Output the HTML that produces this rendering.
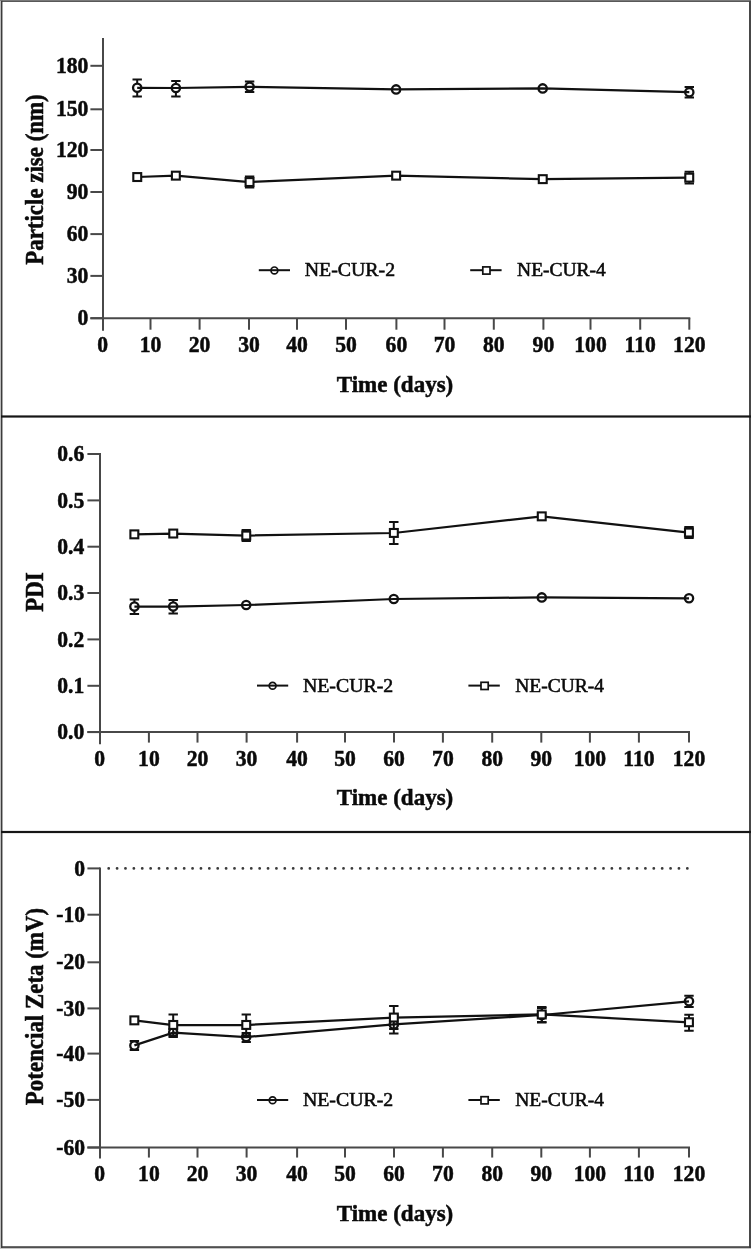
<!DOCTYPE html>
<html lang="en"><head><meta charset="utf-8"><title>Stability of NE-CUR nanoemulsions</title>
<style>
html,body{margin:0;padding:0;background:#fff}
#fig{position:relative;width:751px;height:1249px;overflow:hidden;background:#fff}
svg{display:block;filter:blur(.35px)}
text{font-family:"Liberation Serif",serif;fill:#0a0a0a}
.tk{font-size:22.4px;font-weight:bold;stroke:#0a0a0a;stroke-width:.5px}
.tt{font-size:23px;font-weight:bold;stroke:#0a0a0a;stroke-width:.5px}
.lg{font-size:19px;stroke:#0a0a0a;stroke-width:.55px}
</style></head><body>
<div id="fig"><svg width="751" height="1249" viewBox="0 0 751 1249">
<rect x="0" y="0" width="751" height="1249" fill="#fff"/>
<g stroke="#484848" stroke-width="2" fill="none">
<path d="M103 38V330.7"/>
<path d="M90.4 318.2H690.3"/>
<path d="M150.5 318.2V329.7"/>
<path d="M199.6 318.2V329.7"/>
<path d="M249.0 318.2V329.7"/>
<path d="M297.0 318.2V329.7"/>
<path d="M346.0 318.2V329.7"/>
<path d="M396.4 318.2V329.7"/>
<path d="M444.5 318.2V329.7"/>
<path d="M493.8 318.2V329.7"/>
<path d="M543.4 318.2V329.7"/>
<path d="M590.5 318.2V329.7"/>
<path d="M640.2 318.2V329.7"/>
<path d="M689.3 318.2V329.7"/>
<path d="M90.4 318.2H103"/>
<path d="M90.4 275.9H103"/>
<path d="M90.4 234.1H103"/>
<path d="M90.4 192.0H103"/>
<path d="M90.4 150.0H103"/>
<path d="M90.4 109.3H103"/>
<path d="M90.4 65.8H103"/>
</g>
<g class="tk" text-anchor="end">
<text transform="translate(88.3 325.3) scale(0.965 1)">0</text>
<text transform="translate(88.3 283.0) scale(0.965 1)">30</text>
<text transform="translate(88.3 241.2) scale(0.965 1)">60</text>
<text transform="translate(88.3 199.1) scale(0.965 1)">90</text>
<text transform="translate(88.3 157.1) scale(0.965 1)">120</text>
<text transform="translate(88.3 116.4) scale(0.965 1)">150</text>
<text transform="translate(88.3 72.9) scale(0.965 1)">180</text>
</g>
<g class="tk" text-anchor="middle">
<text transform="translate(102.6 352) scale(0.965 1)">0</text>
<text transform="translate(150.5 352) scale(0.965 1)">10</text>
<text transform="translate(199.6 352) scale(0.965 1)">20</text>
<text transform="translate(249.0 352) scale(0.965 1)">30</text>
<text transform="translate(297.0 352) scale(0.965 1)">40</text>
<text transform="translate(346.0 352) scale(0.965 1)">50</text>
<text transform="translate(396.4 352) scale(0.965 1)">60</text>
<text transform="translate(444.5 352) scale(0.965 1)">70</text>
<text transform="translate(493.8 352) scale(0.965 1)">80</text>
<text transform="translate(543.4 352) scale(0.965 1)">90</text>
<text transform="translate(590.5 352) scale(0.965 1)">100</text>
<text transform="translate(640.2 352) scale(0.965 1)">110</text>
<text transform="translate(689.3 352) scale(0.965 1)">120</text>
</g>
<text class="tt" text-anchor="middle" x="395" y="391.5">Time (days)</text>
<text class="tt" text-anchor="middle" transform="translate(43 179.5) rotate(-90) scale(.997 1.05)">Particle zise (nm)</text>
<path d="M137.2 79.6V96.6M132.5 79.6H141.9M132.5 96.6H141.9" stroke="#111" stroke-width="2.0" fill="none"/>
<path d="M175.9 81.0V96.4M171.2 81.0H180.6M171.2 96.4H180.6" stroke="#111" stroke-width="2.0" fill="none"/>
<path d="M249.6 81.6V92.0M244.9 81.6H254.3M244.9 92.0H254.3" stroke="#111" stroke-width="2.0" fill="none"/>
<path d="M689.3 87.0V97.6M684.6 87.0H694.0M684.6 97.6H694.0" stroke="#111" stroke-width="2.0" fill="none"/>
<circle cx="137.2" cy="87.8" r="4.15" fill="#fff" stroke="#111" stroke-width="2.3"/>
<circle cx="175.9" cy="88.0" r="4.15" fill="#fff" stroke="#111" stroke-width="2.3"/>
<circle cx="249.6" cy="86.8" r="4.15" fill="#fff" stroke="#111" stroke-width="2.3"/>
<circle cx="396.1" cy="89.4" r="4.15" fill="#fff" stroke="#111" stroke-width="2.3"/>
<circle cx="542.7" cy="88.4" r="4.15" fill="#fff" stroke="#111" stroke-width="2.3"/>
<circle cx="689.3" cy="92.2" r="4.15" fill="#fff" stroke="#111" stroke-width="2.3"/>
<polyline points="137.2,87.8 175.9,88.0 249.6,86.8 396.1,89.4 542.7,88.4 689.3,92.2" fill="none" stroke="#111" stroke-width="2.25"/>
<polyline points="137.2,177.0 175.9,175.6 249.6,182.0 396.1,175.6 542.7,179.2 689.3,177.6" fill="none" stroke="#111" stroke-width="2.25"/>
<path d="M249.6 176.6V187.6M244.9 176.6H254.3M244.9 187.6H254.3" stroke="#111" stroke-width="2.0" fill="none"/>
<path d="M689.3 171.8V183.4M684.6 171.8H694.0M684.6 183.4H694.0" stroke="#111" stroke-width="2.0" fill="none"/>
<rect x="133.3" y="173.1" width="7.9" height="7.9" fill="#fff" stroke="#111" stroke-width="2.1"/>
<rect x="171.9" y="171.7" width="7.9" height="7.9" fill="#fff" stroke="#111" stroke-width="2.1"/>
<rect x="245.6" y="178.1" width="7.9" height="7.9" fill="#fff" stroke="#111" stroke-width="2.1"/>
<rect x="392.2" y="171.7" width="7.9" height="7.9" fill="#fff" stroke="#111" stroke-width="2.1"/>
<rect x="538.8" y="175.2" width="7.9" height="7.9" fill="#fff" stroke="#111" stroke-width="2.1"/>
<rect x="685.3" y="173.7" width="7.9" height="7.9" fill="#fff" stroke="#111" stroke-width="2.1"/>
<path d="M470.2 270.2H501.6" stroke="#111" stroke-width="2"/>
<circle cx="274.4" cy="270.4" r="3.4" fill="#fff" stroke="#111" stroke-width="1.7"/>
<rect x="482.8" y="266.9" width="7.2" height="7.2" fill="#fff" stroke="#111" stroke-width="1.7"/>
<path d="M258.8 270.2H290.0" stroke="#111" stroke-width="2"/>
<text class="lg" transform="translate(304.7 276.3) scale(1.045 1)">NE-CUR-2</text>
<text class="lg" transform="translate(517.1 276.3) scale(1.025 1)">NE-CUR-4</text>
<g stroke="#484848" stroke-width="2" fill="none">
<path d="M100 453V744.3000000000001"/>
<path d="M87.4 732.1H690"/>
<path d="M148.9 732.1V742.6"/>
<path d="M197.5 732.1V742.6"/>
<path d="M246.6 732.1V742.6"/>
<path d="M297.1 732.1V742.6"/>
<path d="M345.0 732.1V742.6"/>
<path d="M394.0 732.1V742.6"/>
<path d="M442.9 732.1V742.6"/>
<path d="M492.2 732.1V742.6"/>
<path d="M541.3 732.1V742.6"/>
<path d="M589.9 732.1V742.6"/>
<path d="M638.9 732.1V742.6"/>
<path d="M689.0 732.1V742.6"/>
<path d="M87.4 732.1H100"/>
<path d="M87.4 685.8H100"/>
<path d="M87.4 639.4H100"/>
<path d="M87.4 593.0H100"/>
<path d="M87.4 546.7H100"/>
<path d="M87.4 500.4H100"/>
<path d="M87.4 454.0H100"/>
</g>
<g class="tk" text-anchor="end">
<text transform="translate(84.2 739.2) scale(0.965 1)">0.0</text>
<text transform="translate(84.2 692.9) scale(0.965 1)">0.1</text>
<text transform="translate(84.2 646.5) scale(0.965 1)">0.2</text>
<text transform="translate(84.2 600.1) scale(0.965 1)">0.3</text>
<text transform="translate(84.2 553.8) scale(0.965 1)">0.4</text>
<text transform="translate(84.2 507.5) scale(0.965 1)">0.5</text>
<text transform="translate(84.2 461.1) scale(0.965 1)">0.6</text>
</g>
<g class="tk" text-anchor="middle">
<text transform="translate(99.7 765.8) scale(0.965 1)">0</text>
<text transform="translate(148.9 765.8) scale(0.965 1)">10</text>
<text transform="translate(197.5 765.8) scale(0.965 1)">20</text>
<text transform="translate(246.6 765.8) scale(0.965 1)">30</text>
<text transform="translate(297.1 765.8) scale(0.965 1)">40</text>
<text transform="translate(345.0 765.8) scale(0.965 1)">50</text>
<text transform="translate(394.0 765.8) scale(0.965 1)">60</text>
<text transform="translate(442.9 765.8) scale(0.965 1)">70</text>
<text transform="translate(492.2 765.8) scale(0.965 1)">80</text>
<text transform="translate(541.3 765.8) scale(0.965 1)">90</text>
<text transform="translate(589.9 765.8) scale(0.965 1)">100</text>
<text transform="translate(638.9 765.8) scale(0.965 1)">110</text>
<text transform="translate(689.0 765.8) scale(0.965 1)">120</text>
</g>
<text class="tt" text-anchor="middle" x="395" y="805">Time (days)</text>
<text class="tt" text-anchor="middle" transform="translate(43 592) rotate(-90) scale(.997 1.05)">PDI</text>
<polyline points="134.4,534.4 173.2,533.6 246.2,535.6 393.8,533.0 541.8,516.4 689.0,532.6" fill="none" stroke="#111" stroke-width="2.25"/>
<path d="M246.2 530.0V541.0M241.6 530.0H250.9M241.6 541.0H250.9" stroke="#111" stroke-width="2.0" fill="none"/>
<path d="M393.8 522.0V544.0M389.1 522.0H398.5M389.1 544.0H398.5" stroke="#111" stroke-width="2.0" fill="none"/>
<path d="M689.0 527.0V538.0M684.3 527.0H693.7M684.3 538.0H693.7" stroke="#111" stroke-width="2.0" fill="none"/>
<rect x="130.4" y="530.4" width="7.9" height="7.9" fill="#fff" stroke="#111" stroke-width="2.1"/>
<rect x="169.3" y="529.6" width="7.9" height="7.9" fill="#fff" stroke="#111" stroke-width="2.1"/>
<rect x="242.3" y="531.6" width="7.9" height="7.9" fill="#fff" stroke="#111" stroke-width="2.1"/>
<rect x="389.9" y="529.0" width="7.9" height="7.9" fill="#fff" stroke="#111" stroke-width="2.1"/>
<rect x="537.8" y="512.4" width="7.9" height="7.9" fill="#fff" stroke="#111" stroke-width="2.1"/>
<rect x="685.0" y="528.6" width="7.9" height="7.9" fill="#fff" stroke="#111" stroke-width="2.1"/>
<path d="M134.4 599.4V614.0M129.7 599.4H139.1M129.7 614.0H139.1" stroke="#111" stroke-width="2.0" fill="none"/>
<path d="M173.2 600.0V613.4M168.5 600.0H177.9M168.5 613.4H177.9" stroke="#111" stroke-width="2.0" fill="none"/>
<circle cx="134.4" cy="606.6" r="4.15" fill="#fff" stroke="#111" stroke-width="2.3"/>
<circle cx="173.2" cy="606.6" r="4.15" fill="#fff" stroke="#111" stroke-width="2.3"/>
<circle cx="246.2" cy="605.0" r="4.15" fill="#fff" stroke="#111" stroke-width="2.3"/>
<circle cx="393.8" cy="599.0" r="4.15" fill="#fff" stroke="#111" stroke-width="2.3"/>
<circle cx="541.8" cy="597.4" r="4.15" fill="#fff" stroke="#111" stroke-width="2.3"/>
<circle cx="689.0" cy="598.3" r="4.15" fill="#fff" stroke="#111" stroke-width="2.3"/>
<polyline points="134.4,606.6 173.2,606.6 246.2,605.0 393.8,599.0 541.8,597.4 689.0,598.3" fill="none" stroke="#111" stroke-width="2.25"/>
<path d="M468.4 685.6H499.8" stroke="#111" stroke-width="2"/>
<circle cx="272.6" cy="685.8" r="3.4" fill="#fff" stroke="#111" stroke-width="1.7"/>
<rect x="481.0" y="682.3" width="7.2" height="7.2" fill="#fff" stroke="#111" stroke-width="1.7"/>
<path d="M257.0 685.6H288.2" stroke="#111" stroke-width="2"/>
<text class="lg" transform="translate(302.9 691.7) scale(1.045 1)">NE-CUR-2</text>
<text class="lg" transform="translate(515.3 691.7) scale(1.025 1)">NE-CUR-4</text>
<g stroke="#484848" stroke-width="2" fill="none">
<path d="M100 867.4V1158.55"/>
<path d="M87.4 1147.55H690"/>
<path d="M148.9 1147.55V1157.55"/>
<path d="M197.5 1147.55V1157.55"/>
<path d="M246.6 1147.55V1157.55"/>
<path d="M297.1 1147.55V1157.55"/>
<path d="M345.0 1147.55V1157.55"/>
<path d="M394.0 1147.55V1157.55"/>
<path d="M442.9 1147.55V1157.55"/>
<path d="M492.2 1147.55V1157.55"/>
<path d="M541.3 1147.55V1157.55"/>
<path d="M589.9 1147.55V1157.55"/>
<path d="M638.9 1147.55V1157.55"/>
<path d="M689.0 1147.55V1157.55"/>
<path d="M87.4 868.4H100"/>
<path d="M87.4 914.7H100"/>
<path d="M87.4 962.3H100"/>
<path d="M87.4 1008.4H100"/>
<path d="M87.4 1053.6H100"/>
<path d="M87.4 1099.9H100"/>
<path d="M87.4 1147.5H100"/>
</g>
<path d="M108.7 868.4H688" stroke="#3a3a3a" stroke-width="2.8" stroke-linecap="round" stroke-dasharray="0.01 8.376" fill="none"/>
<g class="tk" text-anchor="end">
<text transform="translate(85.1 875.5) scale(0.965 1)">0</text>
<text transform="translate(85.1 921.8) scale(0.965 1)">-10</text>
<text transform="translate(85.1 969.4) scale(0.965 1)">-20</text>
<text transform="translate(85.1 1015.5) scale(0.965 1)">-30</text>
<text transform="translate(85.1 1060.7) scale(0.965 1)">-40</text>
<text transform="translate(85.1 1107.0) scale(0.965 1)">-50</text>
<text transform="translate(85.1 1154.6) scale(0.965 1)">-60</text>
</g>
<g class="tk" text-anchor="middle">
<text transform="translate(99.7 1180.5) scale(0.965 1)">0</text>
<text transform="translate(148.9 1180.5) scale(0.965 1)">10</text>
<text transform="translate(197.5 1180.5) scale(0.965 1)">20</text>
<text transform="translate(246.6 1180.5) scale(0.965 1)">30</text>
<text transform="translate(297.1 1180.5) scale(0.965 1)">40</text>
<text transform="translate(345.0 1180.5) scale(0.965 1)">50</text>
<text transform="translate(394.0 1180.5) scale(0.965 1)">60</text>
<text transform="translate(442.9 1180.5) scale(0.965 1)">70</text>
<text transform="translate(492.2 1180.5) scale(0.965 1)">80</text>
<text transform="translate(541.3 1180.5) scale(0.965 1)">90</text>
<text transform="translate(589.9 1180.5) scale(0.965 1)">100</text>
<text transform="translate(638.9 1180.5) scale(0.965 1)">110</text>
<text transform="translate(689.0 1180.5) scale(0.965 1)">120</text>
</g>
<text class="tt" text-anchor="middle" x="395" y="1220.5">Time (days)</text>
<text class="tt" text-anchor="middle" transform="translate(43 1006.5) rotate(-90) scale(.997 1.05)">Potencial Zeta (mV)</text>
<path d="M134.4 1041.0V1050.0M129.7 1041.0H139.1M129.7 1050.0H139.1" stroke="#111" stroke-width="2.0" fill="none"/>
<path d="M173.2 1029.0V1037.0M168.5 1029.0H177.9M168.5 1037.0H177.9" stroke="#111" stroke-width="2.0" fill="none"/>
<path d="M246.2 1033.0V1042.0M241.6 1033.0H250.9M241.6 1042.0H250.9" stroke="#111" stroke-width="2.0" fill="none"/>
<path d="M393.8 1015.4V1033.4M389.1 1015.4H398.5M389.1 1033.4H398.5" stroke="#111" stroke-width="2.0" fill="none"/>
<path d="M541.8 1008.0V1022.5M537.0 1008.0H546.5M537.0 1022.5H546.5" stroke="#111" stroke-width="2.0" fill="none"/>
<path d="M689.0 995.7V1007.0M684.3 995.7H693.7M684.3 1007.0H693.7" stroke="#111" stroke-width="2.0" fill="none"/>
<circle cx="134.4" cy="1045.4" r="4.15" fill="#fff" stroke="#111" stroke-width="2.3"/>
<circle cx="173.2" cy="1032.6" r="4.15" fill="#fff" stroke="#111" stroke-width="2.3"/>
<circle cx="246.2" cy="1037.0" r="4.15" fill="#fff" stroke="#111" stroke-width="2.3"/>
<circle cx="393.8" cy="1024.4" r="4.15" fill="#fff" stroke="#111" stroke-width="2.3"/>
<circle cx="541.8" cy="1015.0" r="4.15" fill="#fff" stroke="#111" stroke-width="2.3"/>
<circle cx="689.0" cy="1001.3" r="4.15" fill="#fff" stroke="#111" stroke-width="2.3"/>
<polyline points="134.4,1045.4 173.2,1032.6 246.2,1037.0 393.8,1024.4 541.8,1015.0 689.0,1001.3" fill="none" stroke="#111" stroke-width="2.25"/>
<polyline points="134.4,1020.4 173.2,1025.0 246.2,1025.0 393.8,1017.6 541.8,1014.5 689.0,1022.3" fill="none" stroke="#111" stroke-width="2.25"/>
<path d="M173.2 1014.4V1035.6M168.5 1014.4H177.9M168.5 1035.6H177.9" stroke="#111" stroke-width="2.0" fill="none"/>
<path d="M246.2 1014.4V1035.6M241.6 1014.4H250.9M241.6 1035.6H250.9" stroke="#111" stroke-width="2.0" fill="none"/>
<path d="M393.8 1006.0V1029.0M389.1 1006.0H398.5M389.1 1029.0H398.5" stroke="#111" stroke-width="2.0" fill="none"/>
<path d="M541.8 1007.0V1022.0M537.0 1007.0H546.5M537.0 1022.0H546.5" stroke="#111" stroke-width="2.0" fill="none"/>
<path d="M689.0 1014.7V1030.7M684.3 1014.7H693.7M684.3 1030.7H693.7" stroke="#111" stroke-width="2.0" fill="none"/>
<rect x="130.4" y="1016.4" width="7.9" height="7.9" fill="#fff" stroke="#111" stroke-width="2.1"/>
<rect x="169.3" y="1021.0" width="7.9" height="7.9" fill="#fff" stroke="#111" stroke-width="2.1"/>
<rect x="242.3" y="1021.0" width="7.9" height="7.9" fill="#fff" stroke="#111" stroke-width="2.1"/>
<rect x="389.9" y="1013.6" width="7.9" height="7.9" fill="#fff" stroke="#111" stroke-width="2.1"/>
<rect x="537.8" y="1010.5" width="7.9" height="7.9" fill="#fff" stroke="#111" stroke-width="2.1"/>
<rect x="685.0" y="1018.3" width="7.9" height="7.9" fill="#fff" stroke="#111" stroke-width="2.1"/>
<path d="M468.4 1100H499.8" stroke="#111" stroke-width="2"/>
<circle cx="272.6" cy="1100.2" r="3.4" fill="#fff" stroke="#111" stroke-width="1.7"/>
<rect x="481.0" y="1096.7" width="7.2" height="7.2" fill="#fff" stroke="#111" stroke-width="1.7"/>
<path d="M257.0 1100H288.2" stroke="#111" stroke-width="2"/>
<text class="lg" transform="translate(302.9 1106.1) scale(1.045 1)">NE-CUR-2</text>
<text class="lg" transform="translate(515.3 1106.1) scale(1.025 1)">NE-CUR-4</text>
<rect x="0" y="0" width="1" height="1249" fill="#bdbdbd"/>
<rect x="0" y="0" width="751" height="1" fill="#808080"/>
<rect x="0" y="1247.9" width="751" height="1.1" fill="#c6c6c6"/>
<g fill="#3c3c3c">
<rect x="1" y="0.9" width="1.45" height="1247"/>
<rect x="1" y="0.9" width="750" height="0.95"/>
<rect x="749" y="0.9" width="2" height="1247" fill="#474747"/>
<rect x="1" y="1246.25" width="750" height="1.65"/>
</g>
<rect x="1" y="415.4" width="750" height="2.2" fill="#161616"/>
<rect x="1" y="830.9" width="750" height="2.2" fill="#161616"/>
</svg></div></body></html>
